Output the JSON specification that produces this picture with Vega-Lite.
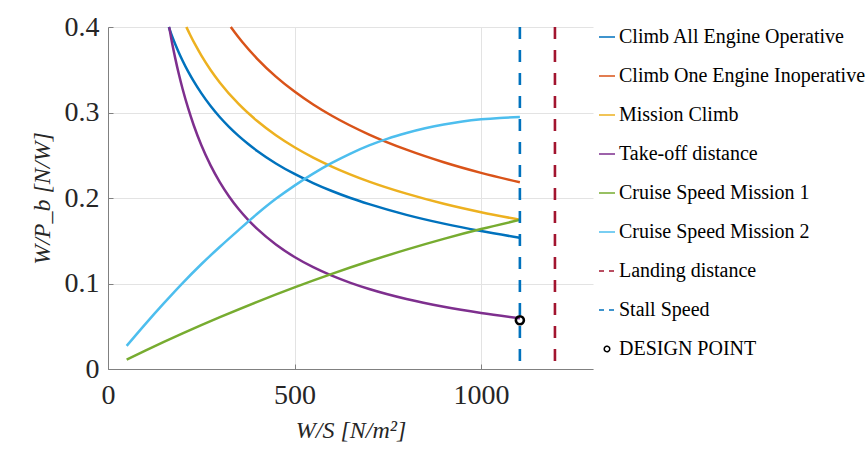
{
  "$schema": "https://vega.github.io/schema/vega-lite/v6.json",
  "width": 485,
  "height": 342,
  "autosize": {"type": "none"},
  "padding": {"left": 108, "top": 27, "right": 275, "bottom": 88},
  "background": "white",
  "config": {"view": {"stroke": null}, "font": "Liberation Serif"},
  "datasets": {
    "curves": [
      {"series": "Climb All Engine Operative", "x": 163, "y": 0.4},
      {"series": "Climb All Engine Operative", "x": 170, "y": 0.3912},
      {"series": "Climb All Engine Operative", "x": 180, "y": 0.3801},
      {"series": "Climb All Engine Operative", "x": 190, "y": 0.37},
      {"series": "Climb All Engine Operative", "x": 200, "y": 0.3606},
      {"series": "Climb All Engine Operative", "x": 215, "y": 0.3478},
      {"series": "Climb All Engine Operative", "x": 230, "y": 0.3363},
      {"series": "Climb All Engine Operative", "x": 250, "y": 0.3226},
      {"series": "Climb All Engine Operative", "x": 275, "y": 0.3075},
      {"series": "Climb All Engine Operative", "x": 300, "y": 0.2944},
      {"series": "Climb All Engine Operative", "x": 325, "y": 0.2829},
      {"series": "Climb All Engine Operative", "x": 350, "y": 0.2726},
      {"series": "Climb All Engine Operative", "x": 375, "y": 0.2634},
      {"series": "Climb All Engine Operative", "x": 400, "y": 0.255},
      {"series": "Climb All Engine Operative", "x": 450, "y": 0.2404},
      {"series": "Climb All Engine Operative", "x": 500, "y": 0.2281},
      {"series": "Climb All Engine Operative", "x": 550, "y": 0.2175},
      {"series": "Climb All Engine Operative", "x": 600, "y": 0.2082},
      {"series": "Climb All Engine Operative", "x": 650, "y": 0.2},
      {"series": "Climb All Engine Operative", "x": 700, "y": 0.1928},
      {"series": "Climb All Engine Operative", "x": 800, "y": 0.1803},
      {"series": "Climb All Engine Operative", "x": 900, "y": 0.17},
      {"series": "Climb All Engine Operative", "x": 1000, "y": 0.1613},
      {"series": "Climb All Engine Operative", "x": 1104, "y": 0.1535},
      {"series": "Climb One Engine Inoperative", "x": 329, "y": 0.4},
      {"series": "Climb One Engine Inoperative", "x": 340, "y": 0.3935},
      {"series": "Climb One Engine Inoperative", "x": 360, "y": 0.3824},
      {"series": "Climb One Engine Inoperative", "x": 400, "y": 0.3628},
      {"series": "Climb One Engine Inoperative", "x": 450, "y": 0.342},
      {"series": "Climb One Engine Inoperative", "x": 500, "y": 0.3245},
      {"series": "Climb One Engine Inoperative", "x": 550, "y": 0.3094},
      {"series": "Climb One Engine Inoperative", "x": 600, "y": 0.2962},
      {"series": "Climb One Engine Inoperative", "x": 700, "y": 0.2742},
      {"series": "Climb One Engine Inoperative", "x": 800, "y": 0.2565},
      {"series": "Climb One Engine Inoperative", "x": 900, "y": 0.2418},
      {"series": "Climb One Engine Inoperative", "x": 1000, "y": 0.2294},
      {"series": "Climb One Engine Inoperative", "x": 1104, "y": 0.2184},
      {"series": "Mission Climb", "x": 210, "y": 0.4},
      {"series": "Mission Climb", "x": 220, "y": 0.391},
      {"series": "Mission Climb", "x": 235, "y": 0.3784},
      {"series": "Mission Climb", "x": 250, "y": 0.3668},
      {"series": "Mission Climb", "x": 275, "y": 0.3498},
      {"series": "Mission Climb", "x": 300, "y": 0.3349},
      {"series": "Mission Climb", "x": 350, "y": 0.31},
      {"series": "Mission Climb", "x": 400, "y": 0.29},
      {"series": "Mission Climb", "x": 450, "y": 0.2734},
      {"series": "Mission Climb", "x": 500, "y": 0.2594},
      {"series": "Mission Climb", "x": 550, "y": 0.2473},
      {"series": "Mission Climb", "x": 600, "y": 0.2368},
      {"series": "Mission Climb", "x": 700, "y": 0.2192},
      {"series": "Mission Climb", "x": 800, "y": 0.2051},
      {"series": "Mission Climb", "x": 900, "y": 0.1933},
      {"series": "Mission Climb", "x": 1000, "y": 0.1834},
      {"series": "Mission Climb", "x": 1104, "y": 0.1746},
      {"series": "Take-off distance", "x": 164, "y": 0.4},
      {"series": "Take-off distance", "x": 170, "y": 0.3853},
      {"series": "Take-off distance", "x": 180, "y": 0.3639},
      {"series": "Take-off distance", "x": 190, "y": 0.3447},
      {"series": "Take-off distance", "x": 200, "y": 0.3275},
      {"series": "Take-off distance", "x": 215, "y": 0.3047},
      {"series": "Take-off distance", "x": 230, "y": 0.2848},
      {"series": "Take-off distance", "x": 250, "y": 0.262},
      {"series": "Take-off distance", "x": 275, "y": 0.2382},
      {"series": "Take-off distance", "x": 300, "y": 0.2183},
      {"series": "Take-off distance", "x": 325, "y": 0.2015},
      {"series": "Take-off distance", "x": 350, "y": 0.1871},
      {"series": "Take-off distance", "x": 375, "y": 0.1747},
      {"series": "Take-off distance", "x": 400, "y": 0.1638},
      {"series": "Take-off distance", "x": 450, "y": 0.1456},
      {"series": "Take-off distance", "x": 500, "y": 0.131},
      {"series": "Take-off distance", "x": 550, "y": 0.1191},
      {"series": "Take-off distance", "x": 600, "y": 0.1092},
      {"series": "Take-off distance", "x": 650, "y": 0.1008},
      {"series": "Take-off distance", "x": 700, "y": 0.0936},
      {"series": "Take-off distance", "x": 800, "y": 0.0819},
      {"series": "Take-off distance", "x": 900, "y": 0.0728},
      {"series": "Take-off distance", "x": 1000, "y": 0.0655},
      {"series": "Take-off distance", "x": 1104, "y": 0.0593},
      {"series": "Cruise Speed Mission 1", "x": 50, "y": 0.011},
      {"series": "Cruise Speed Mission 1", "x": 100, "y": 0.0215},
      {"series": "Cruise Speed Mission 1", "x": 200, "y": 0.0416},
      {"series": "Cruise Speed Mission 1", "x": 300, "y": 0.0606},
      {"series": "Cruise Speed Mission 1", "x": 400, "y": 0.0786},
      {"series": "Cruise Speed Mission 1", "x": 500, "y": 0.0955},
      {"series": "Cruise Speed Mission 1", "x": 600, "y": 0.1113},
      {"series": "Cruise Speed Mission 1", "x": 700, "y": 0.126},
      {"series": "Cruise Speed Mission 1", "x": 800, "y": 0.1396},
      {"series": "Cruise Speed Mission 1", "x": 900, "y": 0.1522},
      {"series": "Cruise Speed Mission 1", "x": 1000, "y": 0.1637},
      {"series": "Cruise Speed Mission 1", "x": 1104, "y": 0.1744},
      {"series": "Cruise Speed Mission 2", "x": 50, "y": 0.027},
      {"series": "Cruise Speed Mission 2", "x": 100, "y": 0.0525},
      {"series": "Cruise Speed Mission 2", "x": 150, "y": 0.077},
      {"series": "Cruise Speed Mission 2", "x": 200, "y": 0.1005},
      {"series": "Cruise Speed Mission 2", "x": 250, "y": 0.1225},
      {"series": "Cruise Speed Mission 2", "x": 300, "y": 0.143},
      {"series": "Cruise Speed Mission 2", "x": 350, "y": 0.1625},
      {"series": "Cruise Speed Mission 2", "x": 400, "y": 0.1815},
      {"series": "Cruise Speed Mission 2", "x": 450, "y": 0.199},
      {"series": "Cruise Speed Mission 2", "x": 500, "y": 0.2145},
      {"series": "Cruise Speed Mission 2", "x": 550, "y": 0.2285},
      {"series": "Cruise Speed Mission 2", "x": 600, "y": 0.241},
      {"series": "Cruise Speed Mission 2", "x": 650, "y": 0.252},
      {"series": "Cruise Speed Mission 2", "x": 700, "y": 0.2615},
      {"series": "Cruise Speed Mission 2", "x": 750, "y": 0.2695},
      {"series": "Cruise Speed Mission 2", "x": 800, "y": 0.276},
      {"series": "Cruise Speed Mission 2", "x": 850, "y": 0.2815},
      {"series": "Cruise Speed Mission 2", "x": 900, "y": 0.286},
      {"series": "Cruise Speed Mission 2", "x": 950, "y": 0.2895},
      {"series": "Cruise Speed Mission 2", "x": 1000, "y": 0.292},
      {"series": "Cruise Speed Mission 2", "x": 1050, "y": 0.2937},
      {"series": "Cruise Speed Mission 2", "x": 1104, "y": 0.2947}
    ],
    "limits": [
      {"series": "Landing distance", "x": 1198},
      {"series": "Stall Speed", "x": 1104}
    ],
    "design": [
      {"series": "DESIGN POINT", "x": 1104, "y": 0.057}
    ]
  },
  "layer": [
    {
      "data": {"name": "curves"},
      "mark": {"type": "line", "strokeWidth": 2.5, "interpolate": "monotone"},
      "encoding": {
        "x": {
          "field": "x", "type": "quantitative",
          "scale": {"domain": [0, 1300], "nice": false},
          "axis": {
            "values": [0, 500, 1000], "format": "d",
            "grid": true, "gridColor": "#e3e3e3", "gridWidth": 1,
            "domainColor": "#808080", "tickColor": "#808080", "tickSize": -5,
            "labelFont": "Liberation Serif", "labelFontSize": 28, "labelColor": "#262626",
            "labelPadding": 17, "labelFlush": false,
            "title": "W/S [N/m²]", "titleFont": "Liberation Serif", "titleFontSize": 24,
            "titleFontStyle": "italic", "titleFontWeight": "normal", "titleColor": "#262626",
            "titlePadding": 9
          }
        },
        "y": {
          "field": "y", "type": "quantitative",
          "scale": {"domain": [0, 0.4], "nice": false},
          "axis": {
            "values": [0, 0.1, 0.2, 0.3, 0.4], "format": ".1~f",
            "grid": true, "gridColor": "#e3e3e3", "gridWidth": 1,
            "domainColor": "#808080", "tickColor": "#808080", "tickSize": -5,
            "labelFont": "Liberation Serif", "labelFontSize": 28, "labelColor": "#262626",
            "labelPadding": 14, "labelFlush": false,
            "title": "W/P_b [N/W]", "titleFont": "Liberation Serif", "titleFontSize": 24,
            "titleFontStyle": "italic", "titleFontWeight": "normal", "titleColor": "#262626",
            "titlePadding": 10
          }
        },
        "color": {
          "field": "series", "type": "nominal",
          "scale": {
            "domain": ["Climb All Engine Operative", "Climb One Engine Inoperative", "Mission Climb", "Take-off distance", "Cruise Speed Mission 1", "Cruise Speed Mission 2", "Landing distance", "Stall Speed", "DESIGN POINT"],
            "range": ["#0072BD", "#D95319", "#EDB120", "#7E2F8E", "#77AC30", "#4DBEEE", "#A2142F", "#0072BD", "#000000"]
          },
          "legend": {
            "title": null, "orient": "right", "offset": 4, "padding": 0,
            "labelFont": "Liberation Serif", "labelFontSize": 20, "labelColor": "#000000",
            "labelLimit": 400, "rowPadding": 19, "labelOffset": 2,
            "symbolType": "stroke", "symbolSize": 256, "symbolStrokeWidth": 1.5,
            "encode": {
              "symbols": {
                "update": {
                  "shape": {"signal": "datum.value === 'DESIGN POINT' ? 'circle' : 'stroke'"},
                  "size": {"signal": "datum.value === 'DESIGN POINT' ? 30 : 256"},
                  "strokeDash": {"signal": "(datum.value === 'Landing distance' || datum.value === 'Stall Speed') ? [5, 5] : [1, 0]"},
                  "strokeWidth": {"value": 1.5},
                  "fill": {"value": "transparent"},
                  "stroke": {"scale": "color", "field": "value"},
                  "opacity": {"value": 1}
                }
              }
            }
          }
        }
      }
    },
    {
      "data": {"name": "limits"},
      "mark": {"type": "rule", "strokeWidth": 2.6, "strokeDash": [12, 11]},
      "encoding": {
        "x": {"field": "x", "type": "quantitative"},
        "color": {"field": "series", "type": "nominal"}
      }
    },
    {
      "data": {"name": "design"},
      "mark": {"type": "point", "filled": false, "strokeWidth": 2.6, "size": 64, "opacity": 1},
      "encoding": {
        "x": {"field": "x", "type": "quantitative"},
        "y": {"field": "y", "type": "quantitative"},
        "color": {"field": "series", "type": "nominal"}
      }
    }
  ]
}
